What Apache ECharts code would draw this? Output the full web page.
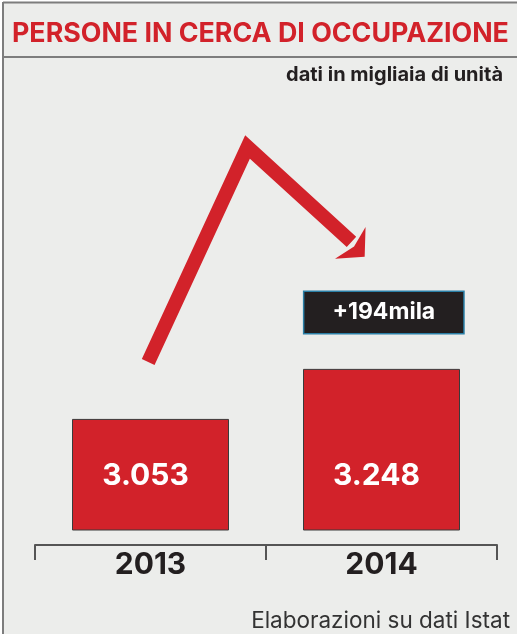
<!DOCTYPE html>
<html>
<head>
<meta charset="utf-8">
<script src="https://cdn.jsdelivr.net/npm/echarts@6/dist/echarts.min.js"></script>
<style>
  html, body { margin: 0; padding: 0; background: #fff; }
  #chart { width: 517px; height: 634px; }
</style>
</head>
<body>
<div id="chart"></div>
<script>
// dati (migliaia di unità)
const years = ["2013", "2014"];
const values = [3053, 3248];
const valueLabels = ["3.053", "3.248"];
const deltaLabel = "+194mila";

// freccia decorativa: x = posizione sulle categorie (0 = 2013, 1 = 2014), y = valore
const arrowX = [-0.01, 0.42, 0.87];
const arrowY = [3275, 4113, 3743];
const arrowHead = [0.896, 3712];
const deltaPos = [1.01, 3468];

const FONT = "Inter, 'Noto Sans', sans-serif";
const RED = "#d2222a";
const DARK = "#231f20";

let chart = echarts.init(document.getElementById("chart"));

let option = {
  backgroundColor: "#fff",
  animation: false,
  graphic: [
    {
      type: "rect",
      z: -10,
      shape: { x: 3, y: 3, width: 514, height: 631 },
      style: { fill: "#ecedeb" },
    },
    {
      type: "line",
      z: -9,
      shape: { x1: 3, y1: 2.5, x2: 517, y2: 2.5 },
      style: { stroke: "#7d7d7d", lineWidth: 2 },
    },
    {
      type: "line",
      z: -9,
      shape: { x1: 3, y1: 57, x2: 517, y2: 57 },
      style: { stroke: "#7d7d7d", lineWidth: 2 },
    },
    {
      type: "line",
      z: -9,
      shape: { x1: 3, y1: 2, x2: 3, y2: 634 },
      style: { stroke: "#7d7d7d", lineWidth: 2 },
    },
  ],
  title: [
    {
      text: "PERSONE IN CERCA DI OCCUPAZIONE",
      left: 12,
      top: 20,
      padding: 0,
      textStyle: { color: RED, fontSize: 26.8, fontWeight: "bold", fontFamily: FONT },
    },
    {
      text: "dati in migliaia di unità",
      right: 14,
      top: 65,
      padding: 0,
      textStyle: { color: DARK, fontSize: 20, fontWeight: "bold", fontFamily: FONT },
    },
    {
      text: "Elaborazioni su dati Istat",
      right: 7,
      bottom: 1,
      padding: 0,
      textStyle: { color: "#333", fontSize: 22.5, fontWeight: "normal", fontFamily: FONT },
    },
  ],
  grid: {
    left: 35,
    right: 20,
    top: 99,
    bottom: 104,
  },
  xAxis: [
    {
      type: "category",
      data: years,
      position: "bottom",
      offset: 15,
      axisLine: { lineStyle: { color: "#555", width: 2 } },
      axisTick: { show: true, length: 15, lineStyle: { color: "#555", width: 2 } },
      axisLabel: {
        margin: 5,
        color: DARK,
        fontSize: 30,
        fontWeight: "bold",
        fontFamily: FONT,
      },
    },
    {
      type: "value",
      min: -0.5,
      max: 1.5,
      show: false,
    },
  ],
  yAxis: {
    type: "value",
    min: 2620,
    max: 4300,
    show: false,
  },
  series: [
    {
      type: "bar",
      xAxisIndex: 0,
      data: values,
      barWidth: 157,
      itemStyle: { color: RED, borderColor: "#3a3a3a", borderWidth: 1 },
      label: {
        show: true,
        position: "insideBottom",
        distance: 40,
        offset: [-5, 0],
        formatter: (p) => valueLabels[p.dataIndex],
        color: "#fff",
        fontSize: 30,
        fontWeight: "bold",
        fontFamily: FONT,
      },
    },
    {
      type: "line",
      xAxisIndex: 1,
      data: arrowX.map((x, i) => [x, arrowY[i]]),
      symbol: "none",
      clip: false,
      lineStyle: { color: RED, width: 14, cap: "butt", join: "miter" },
      z: 3,
    },
    {
      type: "scatter",
      xAxisIndex: 1,
      data: [arrowHead],
      symbol: "path://M0,0L22,19L0,14L-22,19Z",
      symbolSize: [44, 20],
      symbolRotate: -134,
      itemStyle: { color: RED, opacity: 1 },
      clip: false,
      z: 3,
    },
    {
      type: "scatter",
      xAxisIndex: 1,
      data: [deltaPos],
      symbolSize: 0,
      itemStyle: { opacity: 1 },
      label: {
        show: true,
        position: "inside",
        formatter: deltaLabel,
        color: "#fff",
        opacity: 1,
        fontSize: 23,
        fontWeight: "bold",
        fontFamily: FONT,
        backgroundColor: DARK,
        borderColor: "#2a7fa6",
        borderWidth: 1.5,
        padding: [9, 28, 9, 28],
      },
      z: 4,
    },
  ],
};

option && chart.setOption(option);
</script>
</body>
</html>
